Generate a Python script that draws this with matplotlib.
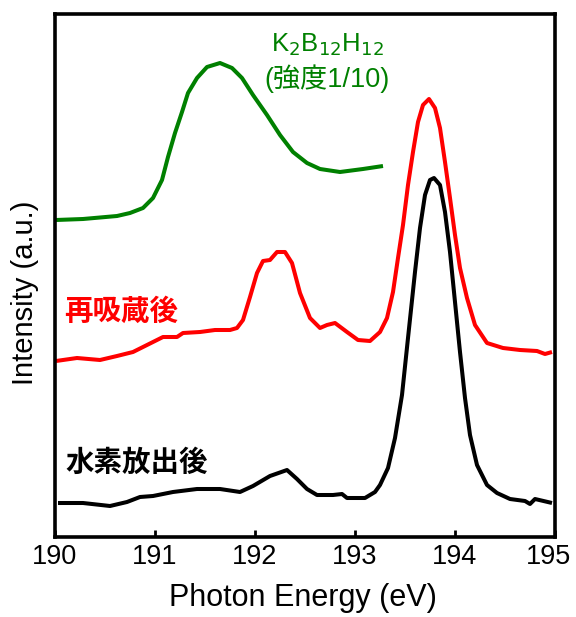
import matplotlib
matplotlib.use("Agg")
import matplotlib.pyplot as plt
import matplotlib.transforms as mtransforms

plt.rcParams['font.family'] = ['Liberation Sans', 'Noto Sans CJK JP', 'DejaVu Sans']

# Photon energy (eV) and intensity (arbitrary units)
green_x = [190.01, 190.28, 190.62, 190.75, 190.88, 190.98, 191.07, 191.13, 191.20, 191.27,
           191.33, 191.42, 191.52, 191.65, 191.77, 191.87, 191.98, 192.12, 192.25, 192.38,
           192.52, 192.65, 192.85, 193.08, 193.28]
green_y = [317, 318, 321, 324, 329, 339, 357, 380, 404, 425,
           444, 459, 470, 474, 469, 459, 442, 422, 402, 385,
           374, 368, 365, 368, 371]

red_x = [190.01, 190.22, 190.45, 190.62, 190.78, 190.92, 191.08, 191.22, 191.28, 191.45,
         191.60, 191.75, 191.82, 191.88, 191.95, 192.02, 192.08, 192.15, 192.22, 192.30,
         192.37, 192.45, 192.55, 192.65, 192.72, 192.80, 192.92, 193.03, 193.15, 193.25,
         193.32, 193.38, 193.43, 193.48, 193.53, 193.58, 193.63, 193.68, 193.74, 193.80,
         193.85, 193.90, 193.95, 194.00, 194.05, 194.12, 194.20, 194.32, 194.48, 194.65,
         194.82, 194.90, 194.97]
red_y = [176, 179, 177, 181, 185, 192, 200, 200, 204, 205,
         207, 207, 209, 217, 240, 264, 276, 277, 285, 285,
         274, 244, 219, 209, 212, 214, 205, 197, 196, 205,
         219, 245, 279, 312, 352, 385, 415, 432, 438, 429,
         409, 375, 339, 302, 269, 239, 212, 194, 189, 187,
         186, 183, 185]

black_x = [190.03, 190.28, 190.55, 190.72, 190.85, 190.98, 191.18, 191.42, 191.65, 191.85,
           191.98, 192.15, 192.32, 192.42, 192.52, 192.62, 192.78, 192.87, 192.92, 193.10,
           193.20, 193.25, 193.33, 193.40, 193.47, 193.53, 193.60, 193.65, 193.70, 193.75,
           193.79, 193.85, 193.90, 193.95, 194.00, 194.05, 194.10, 194.15, 194.22, 194.32,
           194.42, 194.55, 194.70, 194.75, 194.80, 194.97]
black_y = [34, 34, 31, 35, 40, 41, 45, 48, 48, 45,
           51, 61, 67, 58, 48, 42, 42, 43, 39, 39,
           45, 52, 69, 99, 142, 199, 265, 309, 342, 357,
           359, 352, 325, 285, 235, 185, 139, 102, 72, 52,
           44, 38, 36, 33, 38, 34]

xticks = [190, 191, 192, 193, 194, 195]

fig = plt.figure(figsize=(5.76, 6.17), dpi=100)
ax = fig.add_axes([55/576, 1-537/617, 500/576, 523/617])

for xs, ys, c in [(green_x, green_y, '#008000'), (red_x, red_y, '#ff0000'),
                  (black_x, black_y, 'black')]:
    ax.plot(xs, ys, color=c, lw=2.9, solid_capstyle='butt', solid_joinstyle='round')

ax.set_xlim(190, 195)
ax.set_ylim(0, 523)
ax.set_xticks(xticks)
ax.set_xticklabels([str(t) for t in xticks])
ax.set_yticks([])
ax.tick_params(axis='x', direction='in', length=5, width=2, labelsize=19.5, pad=5)
for s in ax.spines.values():
    s.set_linewidth(2.6)

# keep the last tick label inside the figure
last = ax.get_xticklabels()[-1]
last.set_transform(last.get_transform() +
                   mtransforms.ScaledTranslation(-6/100, 0, fig.dpi_scale_trans))

fig.text(303/576, 1-606/617, 'Photon Energy (eV)', ha='center', va='baseline', fontsize=22)
fig.text(25/576, 1-293/617, 'Intensity (a.u.)', rotation=90, ha='center', va='center',
         fontsize=21)

ax.text(192.72, 537-45, r'K$_2$B$_{12}$H$_{12}$', color='#008000', fontsize=18.5,
        ha='center', va='center')
ax.text(192.72, 537-79, '(強度1/10)', color='#008000', fontsize=19.5, ha='center', va='center')
ax.text(190.66, 537-312, '再吸蔵後', color='#ff0000', fontsize=20.5, fontweight='bold',
        ha='center', va='center')
ax.text(190.82, 537-463, '水素放出後', color='black', fontsize=20.5, fontweight='bold',
        ha='center', va='center')

fig.savefig('out.png', dpi=100)
